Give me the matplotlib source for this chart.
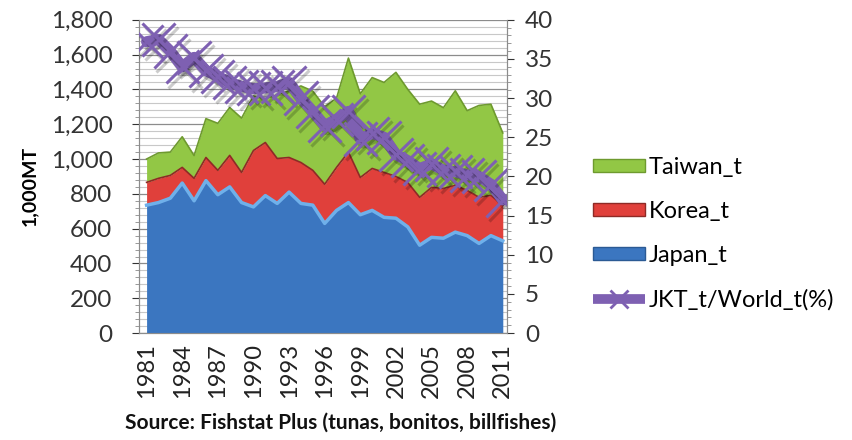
import numpy as np
import matplotlib.pyplot as plt
import matplotlib.patheffects as pe
from matplotlib.lines import Line2D
from matplotlib.patches import Patch
from matplotlib.ticker import MultipleLocator, FuncFormatter

plt.rcParams['font.family'] = ['Lato', 'DejaVu Sans']

# Data (1,000 MT, cumulative tops converted below)
years = list(range(1981, 2012))
japan = [735, 750, 775, 862, 760, 876, 795, 840, 750, 725,
         790, 745, 810, 745, 735, 630, 705, 750, 680, 705,
         665, 660, 610, 505, 550, 545, 580, 560, 515, 560, 530]
korea_top = [866, 889, 906, 952, 889, 1009, 935, 1021, 923, 1049,
             1095, 1003, 1009, 980, 935, 855, 952, 1040, 894, 946,
             923, 900, 865, 780, 837, 831, 849, 820, 780, 791, 734]
total_top = [1000, 1035, 1040, 1128, 1020, 1232, 1205, 1296, 1235, 1362,
             1345, 1368, 1392, 1420, 1390, 1300, 1350, 1580, 1375, 1468,
             1440, 1498, 1400, 1315, 1333, 1295, 1392, 1278, 1308, 1315, 1150]
korea = [k - j for k, j in zip(korea_top, japan)]
taiwan = [t - k for t, k in zip(total_top, korea_top)]
share = [37.2, 37.5, 36.0, 34.0, 35.2, 33.5, 32.8, 32.0, 31.5, 31.2,
         31.3, 31.5, 32.0, 30.0, 28.3, 26.5, 27.3, 28.3, 24.8, 25.5,
         25.0, 22.8, 22.0, 21.0, 21.6, 20.8, 20.6, 20.2, 20.0, 19.0, 17.0]
tick_years = list(range(1981, 2012, 3))

c_japan = '#3B76C0'
c_korea = '#E0403B'
c_taiwan = '#92C745'
c_line = '#7E60B2'

fig = plt.figure(figsize=(8.52, 4.4), dpi=100)
ax = fig.add_axes([0.163, 0.243, 0.432, 0.712])

x = np.array(years)
y1 = np.array(japan)
y2 = y1 + np.array(korea)
y3 = y2 + np.array(taiwan)

ax.fill_between(x, 0, y1, color=c_japan, lw=0, zorder=3)
ax.fill_between(x, y1, y2, color=c_korea, lw=0, zorder=3)
ax.fill_between(x, y2, y3, color=c_taiwan, lw=0, zorder=3)
# soft top edges like the bevelled Excel areas
ax.plot(x, y1, color='#6FB0EA', lw=2.5, zorder=4)
ax.plot(x, y2, color='#8E2A26', lw=1.2, zorder=4)
ax.plot(x, y3, color='#6E9A2E', lw=1.2, zorder=4)

ax.set_xlim(1980.35, 2011.35)
ax.set_ylim(0, 1800)
ax.yaxis.set_major_locator(MultipleLocator(200))
ax.yaxis.set_minor_locator(MultipleLocator(40))
ax.yaxis.set_major_formatter(FuncFormatter(lambda v, p: f'{int(v):,}'))
ax.grid(axis='y', which='major', color='#8C8C8C', lw=0.9, zorder=0)
ax.grid(axis='y', which='minor', color='#C8C8C8', lw=0.8, zorder=0)
ax.set_xticks(tick_years)
ax.set_xticklabels([str(t) for t in tick_years], rotation=90)
ax.tick_params(axis='x', length=0, labelsize=17, colors='#222222', pad=7)
ax.tick_params(axis='y', which='major', length=5, labelsize=17.5, colors='#333333', pad=14)
ax.tick_params(axis='y', which='minor', length=3, color='#888888')
ax.spines['top'].set_visible(False)
for s in ['left', 'bottom', 'right']:
    ax.spines[s].set_color('#8C8C8C')
ax.set_ylabel('1,000MT', fontsize=14, fontweight='bold')
ax.yaxis.set_label_coords(-0.275, 0.47)

ax2 = ax.twinx()
shadow = [pe.SimpleLineShadow(offset=(2, -3), alpha=0.2), pe.Normal()]
ax2.plot(x, share, color=c_line, lw=8, solid_capstyle='round', zorder=5,
         path_effects=shadow)
ax2.plot(x, share, ls='none', marker='x', ms=24, mew=2.2, color=c_line, zorder=6,
         path_effects=shadow)
ax2.set_ylim(0, 40)
ax2.yaxis.set_major_locator(MultipleLocator(5))
ax2.yaxis.set_minor_locator(MultipleLocator(1))
ax2.tick_params(axis='y', which='major', length=5, labelsize=17.5, colors='#333333', pad=8)
ax2.tick_params(axis='y', which='minor', length=3, color='#888888')
ax2.spines['top'].set_visible(False)
for s in ['left', 'bottom', 'right']:
    ax2.spines[s].set_color('#8C8C8C')

handles = [
    Patch(facecolor=c_taiwan, edgecolor='#6E9A2E'),
    Patch(facecolor=c_korea, edgecolor='#8E2A26'),
    Patch(facecolor=c_japan, edgecolor='#2B5A94'),
    Line2D([], [], color=c_line, lw=7, marker='x', ms=13, mew=2,
           solid_capstyle='butt'),
]
labels = ['Taiwan_t', 'Korea_t', 'Japan_t', 'JKT_t/World_t(%)']
fig.legend(handles, labels, loc='upper left', bbox_to_anchor=(0.685, 0.665),
           frameon=False, fontsize=17, handlelength=2.2, handleheight=0.45,
           handletextpad=0.15, labelspacing=0.98, borderaxespad=0)

fig.text(0.40, 0.04, 'Source: Fishstat Plus (tunas, bonitos, billfishes)',
         ha='center', va='center', fontsize=15, fontweight='bold', color='#111111')

fig.savefig('out.png', dpi=100)
